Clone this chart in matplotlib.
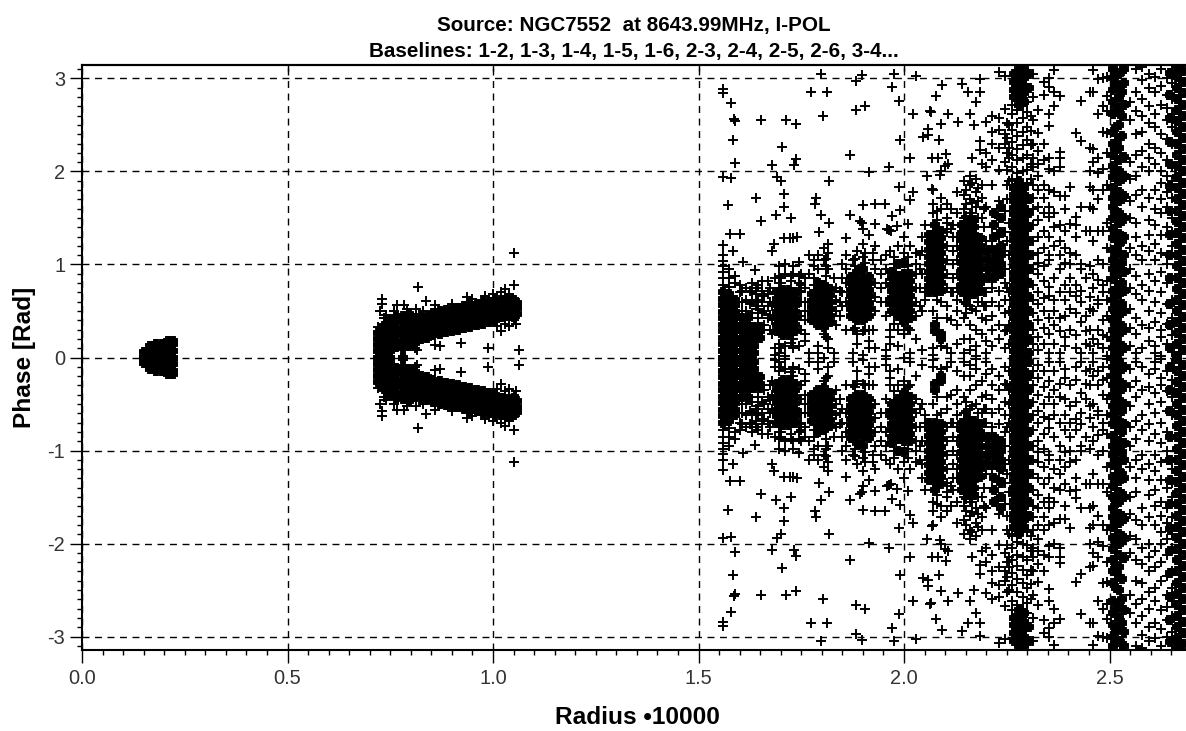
import matplotlib
matplotlib.use("Agg")
import matplotlib.pyplot as plt
import matplotlib.ticker as ticker

plt.rcParams["font.family"] = ["Liberation Sans", "DejaVu Sans"]
plt.rcParams["axes.unicode_minus"] = False

TITLE = "Source: NGC7552  at 8643.99MHz, I-POL\nBaselines: 1-2, 1-3, 1-4, 1-5, 1-6, 2-3, 2-4, 2-5, 2-6, 3-4..."

# every point has its conjugate at -phase, so only phase >= 0 is listed

# isolated crosses read one by one
iso_r = [1.560, 1.560, 1.580, 1.587, 1.590, 1.651, 1.713, 1.737, 1.802, 1.773,
         1.812, 1.798, 1.897, 1.882, 1.882, 1.906, 1.976, 1.971, 1.988, 2.028,
         2.023, 2.079, 2.093, 2.142, 2.156, 2.185, 2.185, 2.174, 2.160, 2.170,
         2.132, 2.108, 2.089, 2.063, 2.066, 2.059, 2.059, 2.047, 2.085, 1.990,
         1.585, 1.704, 1.590, 1.680, 1.737, 1.732, 1.868, 1.963, 1.915, 2.014,
         2.067, 2.083, 2.103, 2.100, 2.108, 2.091, 2.185, 2.185, 2.166, 2.189,
         1.560, 1.578, 1.691, 1.700, 1.817, 1.709, 1.641, 1.571, 1.709, 1.688,
         1.651, 1.726, 1.787, 1.783, 1.798, 1.817, 1.793, 1.901, 1.929, 1.953,
         1.868, 1.893, 1.898, 1.929, 1.963, 1.971, 1.982, 1.988, 2.022, 2.014,
         1.990, 2.010, 2.067, 2.055, 2.087, 1.576, 1.601, 1.560, 1.584, 1.709,
         1.739, 1.683, 1.680, 1.859, 1.609, 1.637, 1.730, 1.722, 1.968, 1.958,
         1.050, 0.818, 0.837, 0.813, 0.766, 0.784, 0.730, 0.730, 0.725, 0.750,
         1.050, 1.030, 0.937, 0.922, 0.988, 1.063, 0.871, 0.815, 0.860, 1.020,
         0.740, 0.760, 0.790, 0.830, 0.860, 0.900, 0.950, 0.980, 1.000, 1.020,
         1.040, 1.030, 1.050, 1.040, 1.030, 0.720, 0.735, 0.810, 1.055, 1.010]
iso_ph = [2.89, 2.84, 2.74, 2.56, 2.54, 2.55, 2.55, 2.51, 2.60, 2.86,
          2.86, 3.05, 3.04, 2.97, 2.66, 2.70, 3.05, 2.91, 2.76, 3.03,
          2.62, 2.81, 2.93, 2.94, 2.86, 2.86, 2.99, 2.75, 2.62, 2.50,
          2.53, 2.62, 2.51, 2.65, 2.64, 2.46, 2.39, 2.37, 2.34, 2.34,
          2.34, 2.26, 2.09, 2.07, 2.13, 2.07, 2.18, 2.05, 1.99, 2.15,
          2.15, 2.15, 2.19, 2.06, 2.08, 2.01, 2.33, 2.23, 2.14, 2.08,
          1.94, 1.93, 1.94, 1.90, 1.90, 1.76, 1.72, 1.64, 1.62, 1.53,
          1.47, 1.50, 1.71, 1.65, 1.53, 1.45, 1.35, 1.64, 1.65, 1.65,
          1.53, 1.47, 1.45, 1.44, 1.37, 1.52, 1.41, 1.83, 1.78, 1.69,
          1.59, 1.44, 1.81, 1.95, 1.96, 1.33, 1.33, 1.21, 1.14, 1.28,
          1.30, 1.22, 1.14, 1.29, 1.03, 0.94, 1.29, 1.28, 1.36, 1.38,
          1.12, 0.76, 0.61, 0.52, 0.56, 0.56, 0.63, 0.58, 0.50, 0.40,
          0.78, 0.74, 0.65, 0.16, 0.10, 0.08, 0.12, 0.08, 0.13, 0.28,
          0.46, 0.50, 0.52, 0.50, 0.56, 0.58, 0.63, 0.66, 0.68, 0.70,
          0.68, 0.40, 0.40, 0.34, 0.36, 0.33, 0.42, 0.10, 0.36, 0.34]

# looser crosses, one list of phases per radius column
loose_r = [1.560, 1.575, 1.590, 1.605, 1.625, 1.640, 1.655, 1.670, 1.685, 1.695,
           1.710, 1.730, 1.745, 1.760, 1.770, 1.790, 1.805, 1.815, 1.830, 1.845,
           1.875, 1.885, 1.900, 1.915, 1.925, 1.930, 1.955, 1.965, 1.985, 2.000,
           2.015, 2.030, 2.045, 2.070, 2.090, 2.105, 2.115, 2.130, 2.145, 2.160,
           2.175, 2.190, 2.200, 2.215, 2.230, 2.245, 2.255, 2.314, 2.327, 2.340,
           2.352, 2.365, 2.380, 2.392, 2.405, 2.418, 2.430, 2.444, 2.452, 2.460,
           2.473, 2.485, 2.495, 2.550, 2.565, 2.580, 2.595, 2.610, 2.625, 2.640,
           2.652]
loose_ph = [[0.78, 0.85, 0.92, 0.98, 1.04, 1.10], [0.76, 0.85, 0.95], [0.80, 0.88], [0.72, 0.60, 0.50],
            [0.72, 0.58], [0.75, 0.68, 0.55], [0.82, 0.72, 0.60, 0.48], [0.82, 0.68, 0.55, 0.42],
            [0.85, 0.70, 0.10, 0.03], [0.88, 0.80, 0.98, 0.15, 0.05],
            [1.00, 0.90, 0.12, 0.02], [0.98, 0.90, 0.20, 0.10], [1.03, 0.88, 0.80, 0.72, 0.12], [0.60, 0.18, 0.40], [1.10, 0.90, 0.05],
            [1.10, 0.95, 0.12, 0.05], [1.18, 1.05, 0.25, 0.00], [1.22, 1.12, 0.95, 0.20, 0.10], [0.85, 0.05], [0.72, 0.60, 0.45],
            [1.05, 0.30, 0.05], [1.15, 0.25, 0.15], [1.08, 1.22, 1.38, 0.28, 0.03], [1.32, 0.30, 0.18, 0.10], [1.12, 1.05, 0.30], [1.20, 0.10], [1.10, 0.08, 0.02], [1.15, 0.92, 0.30, 0.22, 0.15], [1.20, 0.30, 0.12], [1.12, 1.30, 0.25, 0.00],
            [1.20, 0.30, 0.05], [1.12, 1.00, 0.20], [0.90, 1.15, 1.30, 0.50, 0.08], [1.55, 1.65, 1.80, 0.50, 0.10, 0.03], [1.72, 1.60, 0.60, 0.12], [1.65, 1.50, 0.55, 0.42, 0.10], [1.60, 1.38, 0.70, 0.40, 0.05], [1.78, 1.55, 1.30, 0.62, 0.50, 0.35, 0.15], [1.60, 1.75, 1.90, 0.60, 0.42, 0.20, 0.05, 1.50], [1.55, 1.70, 1.85, 1.95, 0.55, 0.35, 0.20, 0.08],
            [1.62, 1.78, 1.92, 0.50, 0.30, 0.12, 0.02], [1.50, 1.72, 1.85, 0.60, 0.42, 0.25], [0.95, 1.08, 1.25, 1.62, 2.05, 2.20, 2.53, 0.70, 0.55, 0.40, 0.18, 0.05], [0.85, 1.00, 1.20, 1.40, 1.85, 2.12, 2.30, 2.42, 2.60, 0.75, 0.60, 0.45, 0.30, 0.12], [0.90, 1.05, 1.30, 1.50, 1.68, 2.02, 2.25, 2.45, 2.57, 3.07, 0.72, 0.55, 0.35, 0.20], [0.95, 1.15, 1.35, 1.58, 2.10, 2.30, 2.40, 2.67, 3.03, 0.80, 0.62, 0.48, 0.28, 0.10], [1.10, 1.45, 1.90, 2.15, 2.25, 2.50, 0.70, 0.50, 0.35, 0.15],
            [0.15, 0.30, 0.48, 0.62, 0.78, 0.95, 1.10, 1.25, 1.42, 1.60, 1.72, 1.85, 2.05, 2.15, 2.30, 2.55, 2.80, 3.05],
            [0.08, 0.22, 0.40, 0.58, 0.70, 0.90, 1.02, 1.12, 1.30, 1.48, 1.62, 1.80, 1.95, 2.08, 2.22, 2.41, 2.66],
            [0.14, 0.32, 0.50, 0.64, 0.82, 0.98, 1.18, 1.36, 1.55, 1.72, 1.85, 2.12, 2.30, 2.82, 2.96],
            [0.05, 0.25, 0.42, 0.66, 0.76, 1.05, 1.10, 1.30, 1.51, 1.62, 1.80, 2.03, 2.14, 2.49, 2.62, 2.91, 3.01],
            [0.15, 0.35, 0.50, 0.62, 0.85, 1.20, 1.40, 1.55, 1.78, 2.01, 2.70, 2.85, 3.09],
            [0.05, 0.28, 0.42, 0.70, 0.95, 1.10, 1.25, 1.42, 1.74, 2.05, 2.14, 2.21, 2.81],
            [0.12, 0.22, 0.45, 0.62, 0.78, 1.02, 1.18, 1.36, 1.60, 1.74],
            [0.30, 0.52, 0.70, 0.85, 1.00, 1.12, 1.44, 1.83],
            [0.10, 0.24, 0.48, 0.66, 0.78, 1.10, 1.30, 1.42, 1.51, 2.41],
            [0.05, 0.38, 0.60, 0.72, 0.95, 1.00, 1.62, 2.33, 2.76],
            [0.15, 0.28, 0.45, 0.85, 1.36],
            [0.12, 0.30, 0.52, 0.65, 0.98, 1.36, 1.62, 1.83, 2.01, 2.25, 2.86],
            [0.05, 0.20, 0.50, 0.75, 0.90, 1.25, 1.60, 1.80, 2.10, 2.24, 2.85, 3.09],
            [0.15, 0.30, 0.58, 0.62, 0.83, 1.05, 1.36, 1.70, 1.98, 2.15, 2.62, 2.99],
            [0.10, 0.24, 0.40, 0.70, 0.78, 1.00, 1.36, 1.80, 2.03, 2.42, 2.70, 3.00],
            [0.02, 0.22, 0.45, 0.62, 0.82, 1.18, 1.45, 1.85, 2.20, 2.41, 2.65, 2.81, 3.02],
            [0.12, 0.32, 0.52, 0.75, 0.95, 1.18, 1.50, 1.68, 1.92, 2.10, 2.55, 2.75],
            [0.05, 0.25, 0.42, 0.68, 0.88, 1.10, 1.30, 1.45, 1.75, 1.95, 2.18, 2.40, 2.65, 2.85, 3.10],
            [0.10, 0.35, 0.62, 0.78, 1.05, 1.20, 1.62, 1.80, 2.05, 2.22, 2.42, 2.60, 2.78, 2.98, 3.12],
            [0.18, 0.32, 0.50, 0.72, 0.90, 1.15, 1.32, 1.48, 1.72, 2.00, 2.14, 2.30, 2.52, 2.70, 2.90, 3.05],
            [0.05, 0.12, 0.38, 0.60, 0.82, 1.05, 1.22, 1.42, 1.60, 1.80, 2.08, 2.25, 2.48, 2.62, 2.85, 3.02],
            [0.02, 0.22, 0.30, 0.48, 0.70, 0.92, 1.12, 1.32, 1.55, 1.70, 1.88, 2.00, 2.20, 2.40, 2.72, 2.92, 3.10],
            [0.14, 0.36, 0.58, 0.80, 1.00, 1.10, 1.40, 1.62, 1.78, 1.95, 2.12, 2.35, 2.55, 2.68, 2.82, 3.00],
            [0.06, 0.24, 0.42, 0.62, 0.84, 1.20, 1.35, 1.50, 1.72, 1.90, 2.05, 2.30, 2.48, 2.62, 2.78, 2.95, 3.08],
            [0.18, 0.32, 0.50, 0.72, 0.95, 1.05, 1.30, 1.45, 1.65, 1.85, 2.10, 2.25, 2.42, 2.58, 2.72, 2.88, 3.05],
            [0.08, 0.28, 0.40, 0.62, 0.80, 1.00, 1.18, 1.38, 1.55, 1.78, 1.95, 2.18, 2.35, 2.50, 2.65, 2.82, 3.10]]

# fuzz of crosses around the blobs and the upper part of the 2.28 spine
halo_r = [1.600, 1.615, 1.630, 1.645, 1.660, 1.675, 1.680, 1.700, 1.725, 1.750,
          1.760, 1.780, 1.810, 1.835, 1.850, 1.860, 1.880, 1.905, 1.930, 1.945,
          1.955, 1.975, 2.010, 2.030, 2.040, 2.050, 2.080, 2.105, 2.120, 2.130,
          2.150, 2.165, 2.180, 2.195, 2.250, 2.262, 2.275, 2.290, 2.300, 2.310]
halo_ph = [[0.70, 0.78], [0.50, 0.62, 0.75], [0.48, 0.60, 0.70, 0.80], [0.42, 0.52, 0.62, 0.78],
           [0.35, 0.50, 0.66], [0.30, 0.46, 0.60, 0.75], [0.25, 0.40, 0.55], [0.80, 0.86, 0.10], [0.82, 0.88, 0.16],
           [0.30, 0.45, 0.60, 0.70, 0.78, 0.90], [0.25, 0.50, 0.75, 0.85], [0.78, 0.86, 0.98, 1.05], [0.88, 0.98, 1.06, 0.22],
           [0.35, 0.50, 0.62, 0.75], [0.55, 0.70, 0.85, 1.00], [0.30, 0.60, 0.80, 0.95, 1.10], [0.98, 1.06, 0.32], [1.02, 1.12, 0.30],
           [0.50, 0.65, 0.80, 0.95], [0.60, 0.75, 0.90, 1.05], [0.45, 0.60, 0.80, 0.95], [1.00, 1.08, 0.36], [0.98, 1.08, 0.32],
           [0.45, 0.60, 0.75, 0.90], [0.55, 0.75, 0.95, 1.10], [0.62, 0.70, 1.42], [1.48, 1.58, 0.62, 0.42],
           [0.75, 0.90, 1.05, 1.20, 1.35, 1.45], [0.70, 0.85, 1.00, 1.15, 1.30, 1.42], [0.75, 0.90, 1.05, 1.20],
           [1.52, 1.65, 1.80, 0.58, 0.48], [1.55, 1.66, 1.88, 0.52], [1.50, 1.68, 1.82, 0.60], [0.55, 0.70, 1.40, 1.60],
           [0.30, 0.75, 1.25, 1.70, 1.85, 2.02, 2.20, 2.36, 2.52], [1.92, 2.05, 2.18, 2.32, 2.45, 2.62, 2.72],
           [1.98, 2.12, 2.24, 2.38, 2.52, 2.66], [2.00, 2.15, 2.28, 2.42, 2.58, 2.70], [1.88, 2.02, 2.18, 2.34, 2.48, 2.64, 2.75],
           [1.92, 2.08, 2.28, 2.44, 2.60]]

# solid blobs, drawn with heavy crosses so they close up like the overplotted originals
core_r = [0.150, 0.165, 0.180, 0.195, 0.210, 0.222]
core_ph = [[0.00, 0.06], [0.00, 0.07, 0.12], [0.00, 0.07, 0.14], [0.00, 0.07, 0.15],
           [0.00, 0.07, 0.14, 0.18], [0.00, 0.07, 0.14, 0.18]]

arm_r = [0.720, 0.735, 0.750, 0.765, 0.780, 0.795, 0.810, 0.825, 0.840, 0.855,
         0.870, 0.885, 0.900, 0.915, 0.930, 0.945, 0.960, 0.975, 0.990, 1.005,
         1.020, 1.035, 1.050, 1.058]
arm_ph = [[0.00, 0.07, 0.13, 0.20, 0.26], [0.00, 0.07, 0.14, 0.21, 0.28, 0.34],
          [0.00, 0.07, 0.14, 0.21, 0.28, 0.35, 0.40], [0.11, 0.18, 0.25, 0.32, 0.39, 0.44],
          [0.00, 0.10, 0.17, 0.24, 0.31, 0.38, 0.45], [0.12, 0.20, 0.27, 0.34, 0.40, 0.47],
          [0.16, 0.24, 0.30, 0.36, 0.42], [0.20, 0.26, 0.32, 0.38, 0.44], [0.21, 0.27, 0.33, 0.39, 0.45],
          [0.24, 0.30, 0.36, 0.42, 0.48], [0.25, 0.31, 0.37, 0.43, 0.50], [0.27, 0.33, 0.39, 0.45, 0.51],
          [0.28, 0.34, 0.40, 0.46, 0.52], [0.30, 0.36, 0.42, 0.48, 0.53], [0.32, 0.38, 0.44, 0.50, 0.55],
          [0.33, 0.39, 0.45, 0.51, 0.57], [0.35, 0.41, 0.47, 0.53, 0.58], [0.36, 0.42, 0.48, 0.54, 0.60],
          [0.38, 0.44, 0.50, 0.56, 0.60], [0.40, 0.46, 0.52, 0.58, 0.62], [0.44, 0.50, 0.56, 0.62],
          [0.46, 0.52, 0.58, 0.64], [0.44, 0.50, 0.56, 0.62], [0.47, 0.53, 0.59]]

blob_r = [1.560, 1.575, 1.590, 1.605, 1.620, 1.635, 1.650,
          1.690, 1.705, 1.720, 1.735,
          1.775, 1.790, 1.805, 1.820,
          1.870, 1.885, 1.900, 1.915,
          1.970, 1.985, 2.000, 2.015,
          2.060, 2.075, 2.090,
          2.140, 2.155, 2.170, 2.185,
          2.205, 2.220, 2.235]
blob_ph = [[0.00, 0.07, 0.14, 0.21, 0.28, 0.35, 0.42, 0.49, 0.56, 0.63, 0.70],
           [0.00, 0.07, 0.14, 0.21, 0.28, 0.35, 0.42, 0.49, 0.56, 0.63, 0.68],
           [0.00, 0.07, 0.14, 0.21, 0.28, 0.35, 0.42, 0.49, 0.56, 0.62],
           [0.00, 0.07, 0.14, 0.21, 0.28, 0.35, 0.42],
           [0.00, 0.07, 0.14, 0.21, 0.28, 0.35, 0.42],
           [0.05, 0.12, 0.19, 0.26, 0.33], [0.21, 0.28, 0.33],
           [0.28, 0.35, 0.42, 0.49, 0.56, 0.63, 0.70], [0.24, 0.31, 0.38, 0.45, 0.52, 0.59, 0.66, 0.73],
           [0.24, 0.31, 0.38, 0.45, 0.52, 0.59, 0.66, 0.73], [0.28, 0.35, 0.42, 0.49, 0.56, 0.63, 0.70],
           [0.40, 0.47, 0.54, 0.61, 0.68], [0.35, 0.42, 0.50, 0.57, 0.64, 0.72, 0.80],
           [0.33, 0.40, 0.47, 0.55, 0.62, 0.70, 0.78], [0.38, 0.45, 0.52, 0.60, 0.67, 0.74],
           [0.45, 0.52, 0.59, 0.66, 0.73, 0.80, 0.87], [0.40, 0.47, 0.54, 0.62, 0.69, 0.76, 0.83, 0.92],
           [0.40, 0.47, 0.55, 0.62, 0.70, 0.77, 0.84, 0.95], [0.45, 0.52, 0.59, 0.66, 0.73, 0.80, 0.87],
           [0.50, 0.57, 0.64, 0.71, 0.78, 0.85, 0.92], [0.45, 0.52, 0.60, 0.67, 0.74, 0.81, 0.88, 1.00],
           [0.38, 0.46, 0.54, 0.61, 0.68, 0.75, 0.82, 0.90, 1.02], [0.42, 0.50, 0.58, 0.66, 0.74, 0.82, 0.90],
           [0.70, 0.77, 0.84, 0.92, 1.00, 1.08, 1.16, 1.24, 1.32], [0.35, 0.29, 0.70, 0.78, 0.86, 0.94, 1.02, 1.10, 1.18, 1.26, 1.34, 1.42],
           [0.25, 0.20, 0.72, 0.80, 0.88, 0.96, 1.04, 1.12, 1.20, 1.28, 1.36],
           [0.70, 0.78, 0.86, 0.94, 1.02, 1.10, 1.18, 1.26, 1.34, 1.42], [0.66, 0.74, 0.82, 0.90, 0.98, 1.06, 1.14, 1.22, 1.30, 1.38, 1.46],
           [0.68, 0.76, 0.84, 0.92, 1.00, 1.08, 1.16, 1.24, 1.32, 1.40, 1.48], [0.72, 0.80, 0.88, 0.96, 1.04, 1.12, 1.20, 1.28],
           [0.85, 0.95, 1.05, 1.15], [0.85, 0.95, 1.05, 1.15, 1.30, 1.42, 1.55], [0.90, 1.00, 1.10, 1.20, 1.35, 1.50, 1.62]]

spine_r = [2.268, 2.280, 2.292, 2.304]
spine_ph = [[0.00, 0.07, 0.14, 0.21, 0.28, 0.35, 0.42, 0.49, 0.56, 0.63, 0.70, 0.77, 0.84, 0.91, 0.98, 1.05, 1.12, 1.19, 1.26, 1.33, 1.40, 1.47, 1.54, 1.61, 1.68, 1.75, 1.82, 2.80, 2.88, 2.96, 3.05],
            [0.00, 0.07, 0.14, 0.21, 0.28, 0.35, 0.42, 0.49, 0.56, 0.63, 0.70, 0.77, 0.84, 0.91, 0.98, 1.05, 1.12, 1.19, 1.26, 1.33, 1.40, 1.47, 1.54, 1.61, 1.68, 1.75, 1.82, 1.90, 2.72, 2.80, 2.88, 2.96, 3.04, 3.10],
            [0.00, 0.07, 0.14, 0.21, 0.28, 0.35, 0.42, 0.49, 0.56, 0.63, 0.70, 0.77, 0.84, 0.91, 0.98, 1.05, 1.12, 1.19, 1.26, 1.33, 1.40, 1.47, 1.54, 1.61, 1.68, 1.75, 1.82, 2.75, 2.84, 2.92, 3.00, 3.10],
            [0.05, 0.20, 0.35, 0.50, 0.65, 0.80, 0.95, 1.10, 1.25, 1.40, 1.55, 1.70, 2.90, 3.05]]

band_r = [2.508, 2.515, 2.522, 2.530, 2.536, 2.648, 2.664, 2.678]
band_ph = [[0.00, 0.10, 0.20, 0.30, 0.40, 0.52, 0.62, 0.72, 0.84, 0.95, 1.05, 1.16, 1.28, 1.38, 1.50, 1.62, 1.72, 1.82, 1.94, 2.06, 2.18, 2.30, 2.42, 2.62, 2.75, 2.88, 3.00, 3.10],
           [0.05, 0.25, 0.46, 0.67, 0.90, 1.10, 1.33, 1.56, 1.78, 2.00, 2.24, 2.48, 2.70, 2.94],
           [0.05, 0.15, 0.25, 0.36, 0.46, 0.56, 0.68, 0.78, 0.90, 1.00, 1.12, 1.22, 1.33, 1.45, 1.55, 1.68, 1.78, 1.90, 2.00, 2.12, 2.25, 2.36, 2.50, 2.66, 2.80, 2.92, 3.05],
           [0.12, 0.34, 0.58, 0.80, 1.02, 1.25, 1.47, 1.70, 1.92, 2.14, 2.38, 2.60, 2.85, 3.08],
           [0.10, 0.30, 0.50, 0.72, 0.92, 1.10, 1.30, 1.50, 1.74, 1.95, 2.16, 2.72, 2.95, 3.10],
           [0.10, 0.35, 0.58, 0.85, 1.10, 1.32, 1.58, 1.84, 2.08, 2.32, 2.58, 2.82, 3.06],
           [0.02, 0.14, 0.26, 0.38, 0.50, 0.62, 0.74, 0.86, 0.98, 1.10, 1.22, 1.34, 1.46, 1.58, 1.70, 1.82, 1.94, 2.06, 2.18, 2.30, 2.42, 2.54, 2.66, 2.78, 2.90, 3.02, 3.12],
           [0.08, 0.20, 0.32, 0.44, 0.56, 0.68, 0.80, 0.92, 1.04, 1.16, 1.28, 1.40, 1.52, 1.64, 1.76, 1.88, 2.00, 2.12, 2.24, 2.36, 2.48, 2.60, 2.72, 2.84, 2.96, 3.08]]


def mirrored(rs, phs):
    x, y = [], []
    for r, col in zip(rs, phs):
        for p in col:
            x += [r, r]
            y += [p, -p]
    return x, y


fig = plt.figure(figsize=(11.86, 7.31), dpi=100)
ax = fig.add_axes([82 / 1186, 81 / 731, 1104 / 1186, 585 / 731])

# thin crosses
for rs, phs in [(loose_r, loose_ph), (halo_r, halo_ph), (iso_r, [[p] for p in iso_ph])]:
    x, y = mirrored(rs, phs)
    ax.plot(x, y, "+", color="black", ms=7.2, mew=1.4, zorder=3)

# heavy crosses for the overplotted parts
for rs, phs in [(core_r, core_ph), (arm_r, arm_ph), (blob_r, blob_ph), (spine_r, spine_ph), (band_r, band_ph)]:
    x, y = mirrored(rs, phs)
    ax.plot(x, y, "+", color="black", ms=7.2, mew=4.2, zorder=3)

ax.set_xlim(0, 1104 / 411)
ax.set_ylim(-3.145, 3.145)
ax.spines["right"].set_visible(False)
for side in ["top", "bottom", "left"]:
    ax.spines[side].set_linewidth(1.5)

ax.xaxis.set_major_locator(ticker.MultipleLocator(0.5))
ax.xaxis.set_minor_locator(ticker.MultipleLocator(0.05))
ax.xaxis.set_major_formatter(ticker.FormatStrFormatter("%.1f"))
ax.yaxis.set_major_locator(ticker.MultipleLocator(1))
ax.yaxis.set_minor_locator(ticker.MultipleLocator(0.1))
ax.tick_params(axis="both", which="major", length=9, width=1, labelsize=14.4, pad=3, labelcolor="#333333")
ax.tick_params(axis="x", which="major", pad=5)
ax.tick_params(axis="both", which="minor", length=3.6, width=1)

# short inward ticks along the top edge
top = ax.secondary_xaxis("top")
top.set_xticks([0.5, 1.0, 1.5, 2.0, 2.5])
top.tick_params(direction="in", length=4, width=1, labeltop=False)
top.spines["top"].set_linewidth(1.5)

ax.grid(True, which="major", color="black", linestyle=(0, (5, 4)), linewidth=1, zorder=1)
ax.set_axisbelow(True)

fig.text(634 / 1186, 1 - 26 / 731, TITLE.split("\n")[0], ha="center", va="center", fontsize=14.9, fontweight="bold")
fig.text(634 / 1186, 1 - 52 / 731, TITLE.split("\n")[1], ha="center", va="center", fontsize=14.9, fontweight="bold")
fig.text(25 / 1186, 1 - 357 / 731, "Phase [Rad]", rotation=90, ha="center", va="center", fontsize=17.6, fontweight="bold")
fig.text(637 / 1186, 1 - 718 / 731, "Radius \u202210000", ha="center", va="center", fontsize=17.6, fontweight="bold")

fig.savefig("out.png", dpi=100)
